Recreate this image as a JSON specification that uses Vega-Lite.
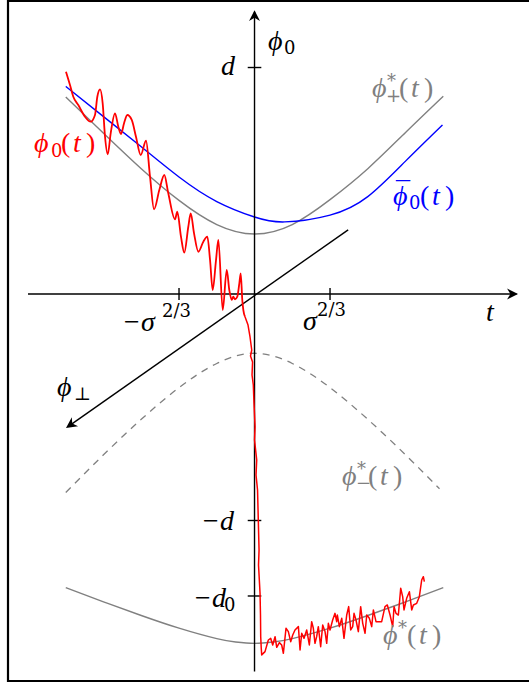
{
  "$schema": "https://vega.github.io/schema/vega-lite/v6.json",
  "width": 529,
  "height": 687,
  "autosize": {"type": "fit", "contains": "padding"},
  "padding": {"left": 8, "top": 1, "right": -3, "bottom": 6},
  "config": {"view": {"stroke": "black", "strokeWidth": 2.2}},
  "datasets": {
    "curves": [
      {"series": "plus", "t": -2.5, "phi": 2.61}, {"series": "plus", "t": -2.0, "phi": 2.13}, {"series": "plus", "t": -1.5, "phi": 1.66}, {"series": "plus", "t": -1.0, "phi": 1.24}, {"series": "plus", "t": -0.5, "phi": 0.92}, {"series": "plus", "t": 0.0, "phi": 0.795}, {"series": "plus", "t": 0.5, "phi": 0.92}, {"series": "plus", "t": 1.0, "phi": 1.25}, {"series": "plus", "t": 1.5, "phi": 1.66}, {"series": "plus", "t": 2.0, "phi": 2.14}, {"series": "plus", "t": 2.5, "phi": 2.62},
      {"series": "bar", "t": -2.5, "phi": 2.75}, {"series": "bar", "t": -2.0, "phi": 2.35}, {"series": "bar", "t": -1.5, "phi": 1.95}, {"series": "bar", "t": -1.0, "phi": 1.55}, {"series": "bar", "t": -0.5, "phi": 1.225}, {"series": "bar", "t": 0.0, "phi": 1.02}, {"series": "bar", "t": 0.4, "phi": 0.955}, {"series": "bar", "t": 1.0, "phi": 1.045}, {"series": "bar", "t": 1.5, "phi": 1.29}, {"series": "bar", "t": 2.0, "phi": 1.76}, {"series": "bar", "t": 2.49, "phi": 2.24},
      {"series": "minus", "t": -2.5, "phi": -2.63}, {"series": "minus", "t": -2.0, "phi": -2.13}, {"series": "minus", "t": -1.5, "phi": -1.66}, {"series": "minus", "t": -1.0, "phi": -1.24}, {"series": "minus", "t": -0.5, "phi": -0.92}, {"series": "minus", "t": 0.0, "phi": -0.785}, {"series": "minus", "t": 0.5, "phi": -0.92}, {"series": "minus", "t": 1.0, "phi": -1.24}, {"series": "minus", "t": 1.5, "phi": -1.66}, {"series": "minus", "t": 2.0, "phi": -2.13}, {"series": "minus", "t": 2.45, "phi": -2.58},
      {"series": "star", "t": -2.5, "phi": -3.89}, {"series": "star", "t": -2.0, "phi": -4.078}, {"series": "star", "t": -1.5, "phi": -4.258}, {"series": "star", "t": -1.0, "phi": -4.426}, {"series": "star", "t": -0.5, "phi": -4.565}, {"series": "star", "t": -0.25, "phi": -4.61}, {"series": "star", "t": 0.0, "phi": -4.627}, {"series": "star", "t": 0.25, "phi": -4.61}, {"series": "star", "t": 0.5, "phi": -4.565}, {"series": "star", "t": 1.0, "phi": -4.426}, {"series": "star", "t": 1.5, "phi": -4.258}, {"series": "star", "t": 2.0, "phi": -4.078}, {"series": "star", "t": 2.5, "phi": -3.89}
    ],
    "red": [
      {"i": 1, "seg": "osc", "t": -2.497, "phi": 2.944}, {"i": 2, "seg": "osc", "t": -2.444, "phi": 2.768}, {"i": 3, "seg": "osc", "t": -2.4, "phi": 2.613}, {"i": 4, "seg": "osc", "t": -2.334, "phi": 2.503}, {"i": 5, "seg": "osc", "t": -2.245, "phi": 2.348}, {"i": 6, "seg": "osc", "t": -2.17, "phi": 2.282}, {"i": 7, "seg": "osc", "t": -2.113, "phi": 2.371}, {"i": 8, "seg": "osc", "t": -2.082, "phi": 2.613}, {"i": 9, "seg": "osc", "t": -2.046, "phi": 2.711}, {"i": 10, "seg": "osc", "t": -2.011, "phi": 2.526},
      {"i": 11, "seg": "osc", "t": -1.98, "phi": 2.083}, {"i": 12, "seg": "osc", "t": -1.944, "phi": 1.85}, {"i": 13, "seg": "osc", "t": -1.905, "phi": 2.128}, {"i": 14, "seg": "osc", "t": -1.848, "phi": 2.393}, {"i": 15, "seg": "osc", "t": -1.804, "phi": 2.216}, {"i": 16, "seg": "osc", "t": -1.768, "phi": 2.119}, {"i": 17, "seg": "osc", "t": -1.728, "phi": 2.261}, {"i": 18, "seg": "osc", "t": -1.685, "phi": 2.371}, {"i": 19, "seg": "osc", "t": -1.626, "phi": 2.305}, {"i": 20, "seg": "osc", "t": -1.57, "phi": 2.083},
      {"i": 21, "seg": "osc", "t": -1.507, "phi": 1.841}, {"i": 22, "seg": "osc", "t": -1.437, "phi": 2.03}, {"i": 23, "seg": "osc", "t": -1.384, "phi": 1.554}, {"i": 24, "seg": "osc", "t": -1.331, "phi": 1.122}, {"i": 25, "seg": "osc", "t": -1.261, "phi": 1.377}, {"i": 26, "seg": "osc", "t": -1.195, "phi": 1.576}, {"i": 27, "seg": "osc", "t": -1.142, "phi": 1.334}, {"i": 28, "seg": "osc", "t": -1.053, "phi": 0.989}, {"i": 29, "seg": "osc", "t": -1.023, "phi": 1.09}, {"i": 30, "seg": "osc", "t": -0.974, "phi": 0.759},
      {"i": 31, "seg": "osc", "t": -0.93, "phi": 0.547}, {"i": 32, "seg": "osc", "t": -0.877, "phi": 0.891}, {"i": 33, "seg": "osc", "t": -0.845, "phi": 1.069}, {"i": 34, "seg": "osc", "t": -0.801, "phi": 0.804}, {"i": 35, "seg": "osc", "t": -0.744, "phi": 0.56}, {"i": 36, "seg": "osc", "t": -0.678, "phi": 0.693}, {"i": 37, "seg": "osc", "t": -0.625, "phi": 0.759}, {"i": 38, "seg": "osc", "t": -0.589, "phi": 0.45}, {"i": 39, "seg": "osc", "t": -0.554, "phi": 0.053}, {"i": 40, "seg": "osc", "t": -0.51, "phi": 0.45},
      {"i": 41, "seg": "osc", "t": -0.479, "phi": 0.715}, {"i": 42, "seg": "osc", "t": -0.421, "phi": -0.212}, {"i": 43, "seg": "osc", "t": -0.368, "phi": 0.318}, {"i": 44, "seg": "osc", "t": -0.334, "phi": 0.053}, {"i": 45, "seg": "osc", "t": -0.302, "phi": -0.079}, {"i": 46, "seg": "osc", "t": -0.281, "phi": -0.036}, {"i": 47, "seg": "osc", "t": -0.258, "phi": -0.07}, {"i": 48, "seg": "osc", "t": -0.228, "phi": -0.036}, {"i": 49, "seg": "osc", "t": -0.201, "phi": 0.142}, {"i": 50, "seg": "osc", "t": -0.183, "phi": 0.274},
      {"i": 51, "seg": "osc", "t": -0.162, "phi": -0.079}, {"i": 52, "seg": "osc", "t": -0.148, "phi": -0.212}, {"i": 53, "seg": "osc", "t": -0.126, "phi": -0.301},
      {"i": 53, "seg": "jag", "t": -0.126, "phi": -0.301}, {"i": 54, "seg": "jag", "t": -0.086, "phi": -0.411}, {"i": 55, "seg": "jag", "t": -0.06, "phi": -0.566}, {"i": 56, "seg": "jag", "t": -0.037, "phi": -0.742}, {"i": 57, "seg": "jag", "t": -0.053, "phi": -0.821}, {"i": 58, "seg": "jag", "t": -0.026, "phi": -0.901}, {"i": 59, "seg": "jag", "t": -0.033, "phi": -1.073}, {"i": 60, "seg": "jag", "t": -0.016, "phi": -1.205},
      {"i": 61, "seg": "jag", "t": -0.007, "phi": -1.444}, {"i": 62, "seg": "jag", "t": 0.007, "phi": -1.758}, {"i": 63, "seg": "jag", "t": 0.0, "phi": -1.934}, {"i": 64, "seg": "jag", "t": 0.029, "phi": -2.199}, {"i": 65, "seg": "jag", "t": 0.02, "phi": -2.397}, {"i": 66, "seg": "jag", "t": 0.04, "phi": -2.596}, {"i": 67, "seg": "jag", "t": 0.05, "phi": -2.993}, {"i": 68, "seg": "jag", "t": 0.06, "phi": -3.391}, {"i": 69, "seg": "jag", "t": 0.053, "phi": -3.589}, {"i": 70, "seg": "jag", "t": 0.073, "phi": -3.96},
      {"i": 71, "seg": "jag", "t": 0.079, "phi": -4.252}, {"i": 72, "seg": "jag", "t": 0.082, "phi": -4.539}, {"i": 73, "seg": "jag", "t": 0.089, "phi": -4.689}, {"i": 74, "seg": "jag", "t": 0.095, "phi": -4.78}, {"i": 75, "seg": "jag", "t": 0.139, "phi": -4.737}, {"i": 76, "seg": "jag", "t": 0.183, "phi": -4.583}, {"i": 77, "seg": "jag", "t": 0.214, "phi": -4.561}, {"i": 78, "seg": "jag", "t": 0.241, "phi": -4.649}, {"i": 79, "seg": "jag", "t": 0.272, "phi": -4.539}, {"i": 80, "seg": "jag", "t": 0.294, "phi": -4.68},
      {"i": 81, "seg": "jag", "t": 0.329, "phi": -4.618}, {"i": 82, "seg": "jag", "t": 0.36, "phi": -4.649}, {"i": 83, "seg": "jag", "t": 0.382, "phi": -4.759}, {"i": 84, "seg": "jag", "t": 0.417, "phi": -4.428}, {"i": 85, "seg": "jag", "t": 0.448, "phi": -4.472}, {"i": 86, "seg": "jag", "t": 0.479, "phi": -4.605}, {"i": 87, "seg": "jag", "t": 0.506, "phi": -4.517}, {"i": 88, "seg": "jag", "t": 0.536, "phi": -4.45}, {"i": 89, "seg": "jag", "t": 0.581, "phi": -4.406}, {"i": 90, "seg": "jag", "t": 0.603, "phi": -4.715},
      {"i": 91, "seg": "jag", "t": 0.625, "phi": -4.494}, {"i": 92, "seg": "jag", "t": 0.656, "phi": -4.561}, {"i": 93, "seg": "jag", "t": 0.691, "phi": -4.45}, {"i": 94, "seg": "jag", "t": 0.726, "phi": -4.649}, {"i": 95, "seg": "jag", "t": 0.757, "phi": -4.34}, {"i": 96, "seg": "jag", "t": 0.779, "phi": -4.428}, {"i": 97, "seg": "jag", "t": 0.801, "phi": -4.627}, {"i": 98, "seg": "jag", "t": 0.823, "phi": -4.539}, {"i": 99, "seg": "jag", "t": 0.845, "phi": -4.406}, {"i": 100, "seg": "jag", "t": 0.876, "phi": -4.671},
      {"i": 101, "seg": "jag", "t": 0.903, "phi": -4.384}, {"i": 102, "seg": "jag", "t": 0.934, "phi": -4.472}, {"i": 103, "seg": "jag", "t": 0.956, "phi": -4.627}, {"i": 104, "seg": "jag", "t": 0.978, "phi": -4.362}, {"i": 105, "seg": "jag", "t": 1.0, "phi": -4.45}, {"i": 106, "seg": "jag", "t": 1.035, "phi": -4.318}, {"i": 107, "seg": "jag", "t": 1.066, "phi": -4.23}, {"i": 108, "seg": "jag", "t": 1.088, "phi": -4.34}, {"i": 109, "seg": "jag", "t": 1.097, "phi": -4.252}, {"i": 110, "seg": "jag", "t": 1.124, "phi": -4.406},
      {"i": 111, "seg": "jag", "t": 1.155, "phi": -4.296}, {"i": 112, "seg": "jag", "t": 1.185, "phi": -4.561}, {"i": 113, "seg": "jag", "t": 1.221, "phi": -4.252}, {"i": 114, "seg": "jag", "t": 1.247, "phi": -4.141}, {"i": 115, "seg": "jag", "t": 1.274, "phi": -4.45}, {"i": 116, "seg": "jag", "t": 1.3, "phi": -4.406}, {"i": 117, "seg": "jag", "t": 1.318, "phi": -4.23}, {"i": 118, "seg": "jag", "t": 1.344, "phi": -4.318}, {"i": 119, "seg": "jag", "t": 1.375, "phi": -4.472}, {"i": 120, "seg": "jag", "t": 1.406, "phi": -4.141},
      {"i": 121, "seg": "jag", "t": 1.433, "phi": -4.362}, {"i": 122, "seg": "jag", "t": 1.464, "phi": -4.494}, {"i": 123, "seg": "jag", "t": 1.486, "phi": -4.252}, {"i": 124, "seg": "jag", "t": 1.521, "phi": -4.296}, {"i": 125, "seg": "jag", "t": 1.552, "phi": -4.406}, {"i": 126, "seg": "jag", "t": 1.574, "phi": -4.185}, {"i": 127, "seg": "jag", "t": 1.609, "phi": -4.34}, {"i": 128, "seg": "jag", "t": 1.64, "phi": -4.34}, {"i": 129, "seg": "jag", "t": 1.684, "phi": -4.34}, {"i": 130, "seg": "jag", "t": 1.728, "phi": -4.141},
      {"i": 131, "seg": "jag", "t": 1.759, "phi": -4.119}, {"i": 132, "seg": "jag", "t": 1.795, "phi": -4.252}, {"i": 133, "seg": "jag", "t": 1.83, "phi": -4.406}, {"i": 134, "seg": "jag", "t": 1.848, "phi": -4.141}, {"i": 135, "seg": "jag", "t": 1.874, "phi": -4.23}, {"i": 136, "seg": "jag", "t": 1.905, "phi": -4.252}, {"i": 137, "seg": "jag", "t": 1.936, "phi": -3.898}, {"i": 138, "seg": "jag", "t": 1.962, "phi": -4.009}, {"i": 139, "seg": "jag", "t": 1.98, "phi": -4.185}, {"i": 140, "seg": "jag", "t": 2.015, "phi": -4.031},
      {"i": 141, "seg": "jag", "t": 2.051, "phi": -3.943}, {"i": 142, "seg": "jag", "t": 2.082, "phi": -4.185}, {"i": 143, "seg": "jag", "t": 2.104, "phi": -4.119}, {"i": 144, "seg": "jag", "t": 2.148, "phi": -4.097}, {"i": 145, "seg": "jag", "t": 2.183, "phi": -4.009}, {"i": 146, "seg": "jag", "t": 2.214, "phi": -3.788}, {"i": 147, "seg": "jag", "t": 2.236, "phi": -3.744}, {"i": 148, "seg": "jag", "t": 2.249, "phi": -3.81}
    ],
    "segs": [
      {"kind": "axis", "t": -3.0, "phi": 0, "t2": 3.47, "phi2": 0},
      {"kind": "axis", "t": 0, "phi": -5.0, "t2": 0, "phi2": 3.74},
      {"kind": "tick", "t": -0.09, "phi": 3, "t2": 0.09, "phi2": 3},
      {"kind": "tick", "t": -0.09, "phi": -3, "t2": 0.09, "phi2": -3},
      {"kind": "tick", "t": -0.09, "phi": -4, "t2": 0.09, "phi2": -4},
      {"kind": "tick", "t": -1, "phi": -0.08, "t2": -1, "phi2": 0.08},
      {"kind": "tick", "t": 1, "phi": -0.08, "t2": 1, "phi2": 0.08},
      {"kind": "perp", "t": 1.24, "phi": 0.85, "t2": -2.456, "phi2": -1.746}
    ],
    "tips": [
      {"arrow": "t", "t": 3.49, "phi": 0},
      {"arrow": "phi0", "t": 0, "phi": 3.76},
      {"arrow": "perp", "t": -2.497, "phi": -1.775}
    ],
    "labels": [
      {"series": "axis", "role": "main", "text": "ϕ", "t": 0.179, "phi": 3.232},
      {"series": "axis", "role": "script", "text": "0", "t": 0.391, "phi": 3.179},
      {"series": "axis", "role": "main", "text": "d", "t": -0.444, "phi": 2.901},
      {"series": "axis", "role": "main", "text": "−d", "t": -0.709, "phi": -3.126},
      {"series": "axis", "role": "main", "text": "−d", "t": -0.815, "phi": -4.146},
      {"series": "axis", "role": "script", "text": "0", "t": -0.404, "phi": -4.199},
      {"series": "axis", "role": "main", "text": "t", "t": 3.066, "phi": -0.358},
      {"series": "axis", "role": "main", "text": "−σ", "t": -1.755, "phi": -0.49},
      {"series": "axis", "role": "script", "text": "2/3", "t": -1.225, "phi": -0.305},
      {"series": "axis", "role": "main", "text": "σ", "t": 0.642, "phi": -0.477},
      {"series": "axis", "role": "script", "text": "2/3", "t": 0.828, "phi": -0.291},
      {"series": "axis", "role": "main", "text": "ϕ", "t": -2.616, "phi": -1.351},
      {"series": "axis", "role": "script", "text": "⊥", "t": -2.391, "phi": -1.404},
      {"series": "phi0", "role": "main", "text": "ϕ", "t": -2.921, "phi": 1.881},
      {"series": "phi0", "role": "script", "text": "0", "t": -2.695, "phi": 1.815},
      {"series": "phi0", "role": "paren", "text": "(", "t": -2.563, "phi": 1.881},
      {"series": "phi0", "role": "main", "text": "t", "t": -2.404, "phi": 1.881},
      {"series": "phi0", "role": "paren", "text": ")", "t": -2.232, "phi": 1.881},
      {"series": "plus", "role": "main", "text": "ϕ", "t": 1.556, "phi": 2.609},
      {"series": "plus", "role": "script", "text": "*", "t": 1.755, "phi": 2.742},
      {"series": "plus", "role": "script", "text": "+", "t": 1.742, "phi": 2.543},
      {"series": "plus", "role": "paren", "text": "(", "t": 1.914, "phi": 2.609},
      {"series": "plus", "role": "main", "text": "t", "t": 2.073, "phi": 2.609},
      {"series": "plus", "role": "paren", "text": ")", "t": 2.245, "phi": 2.609},
      {"series": "bar", "role": "main", "text": "ϕ", "t": 1.834, "phi": 1.179},
      {"series": "bar", "role": "paren", "text": "¯", "t": 1.874, "phi": 1.232},
      {"series": "bar", "role": "script", "text": "0", "t": 2.046, "phi": 1.126},
      {"series": "bar", "role": "paren", "text": "(", "t": 2.192, "phi": 1.179},
      {"series": "bar", "role": "main", "text": "t", "t": 2.351, "phi": 1.179},
      {"series": "bar", "role": "paren", "text": ")", "t": 2.523, "phi": 1.179},
      {"series": "minus", "role": "main", "text": "ϕ", "t": 1.159, "phi": -2.53},
      {"series": "minus", "role": "script", "text": "*", "t": 1.358, "phi": -2.397},
      {"series": "minus", "role": "script", "text": "−", "t": 1.344, "phi": -2.583},
      {"series": "minus", "role": "paren", "text": "(", "t": 1.503, "phi": -2.53},
      {"series": "minus", "role": "main", "text": "t", "t": 1.662, "phi": -2.53},
      {"series": "minus", "role": "paren", "text": ")", "t": 1.834, "phi": -2.53},
      {"series": "star", "role": "main", "text": "ϕ", "t": 1.702, "phi": -4.636},
      {"series": "star", "role": "script", "text": "*", "t": 1.901, "phi": -4.503},
      {"series": "star", "role": "paren", "text": "(", "t": 2.02, "phi": -4.636},
      {"series": "star", "role": "main", "text": "t", "t": 2.179, "phi": -4.636},
      {"series": "star", "role": "paren", "text": ")", "t": 2.351, "phi": -4.636}
    ]
  },
  "layer": [
    {
      "data": {"name": "curves"},
      "transform": [{"filter": "datum.series != 'minus'"}],
      "mark": {"type": "line", "interpolate": "natural", "strokeWidth": 1.4},
      "encoding": {
        "x": {"field": "t", "type": "quantitative", "scale": {"domain": [-3.265, 3.675], "nice": false, "zero": false}, "axis": null},
        "y": {"field": "phi", "type": "quantitative", "scale": {"domain": [-5.126, 3.881], "nice": false, "zero": false}, "axis": null},
        "detail": {"field": "series"},
        "color": {"field": "series", "type": "nominal", "scale": {"domain": ["phi0", "plus", "bar", "minus", "star", "axis"], "range": ["#ff0000", "#808080", "#0000ff", "#808080", "#808080", "#000000"]}, "legend": null}
      }
    },
    {
      "data": {"name": "curves"},
      "transform": [{"filter": "datum.series == 'minus'"}],
      "mark": {"type": "line", "interpolate": "natural", "strokeWidth": 1.3, "strokeDash": [7, 6]},
      "encoding": {
        "x": {"field": "t", "type": "quantitative"},
        "y": {"field": "phi", "type": "quantitative"},
        "color": {"field": "series", "type": "nominal", "legend": null}
      }
    },
    {
      "data": {"name": "segs"},
      "mark": {"type": "rule", "color": "black", "strokeWidth": 1.4},
      "encoding": {
        "x": {"field": "t", "type": "quantitative"},
        "y": {"field": "phi", "type": "quantitative"},
        "x2": {"field": "t2"},
        "y2": {"field": "phi2"}
      }
    },
    {
      "data": {"name": "tips"},
      "transform": [{"filter": "datum.arrow == 't'"}],
      "mark": {"type": "point", "shape": "M0,0 L-1,-0.5 L-0.7,0 L-1,0.5 Z", "filled": true, "color": "black", "opacity": 1, "size": 480, "angle": 0, "strokeWidth": 0},
      "encoding": {"x": {"field": "t", "type": "quantitative"}, "y": {"field": "phi", "type": "quantitative"}}
    },
    {
      "data": {"name": "tips"},
      "transform": [{"filter": "datum.arrow == 'phi0'"}],
      "mark": {"type": "point", "shape": "M0,0 L-1,-0.5 L-0.7,0 L-1,0.5 Z", "filled": true, "color": "black", "opacity": 1, "size": 480, "angle": 270, "strokeWidth": 0},
      "encoding": {"x": {"field": "t", "type": "quantitative"}, "y": {"field": "phi", "type": "quantitative"}}
    },
    {
      "data": {"name": "tips"},
      "transform": [{"filter": "datum.arrow == 'perp'"}],
      "mark": {"type": "point", "shape": "M0,0 L-1,-0.5 L-0.7,0 L-1,0.5 Z", "filled": true, "color": "black", "opacity": 1, "size": 480, "angle": 144.9, "strokeWidth": 0},
      "encoding": {"x": {"field": "t", "type": "quantitative"}, "y": {"field": "phi", "type": "quantitative"}}
    },
    {
      "data": {"name": "red"},
      "transform": [{"filter": "datum.seg == 'osc'"}],
      "mark": {"type": "line", "interpolate": "monotone", "strokeWidth": 1.8, "color": "#ff0000"},
      "encoding": {
        "x": {"field": "t", "type": "quantitative"},
        "y": {"field": "phi", "type": "quantitative"},
        "order": {"field": "i", "type": "quantitative"}
      }
    },
    {
      "data": {"name": "red"},
      "transform": [{"filter": "datum.seg == 'jag'"}],
      "mark": {"type": "line", "interpolate": "linear", "strokeWidth": 1.5, "color": "#ff0000", "strokeJoin": "round"},
      "encoding": {
        "x": {"field": "t", "type": "quantitative"},
        "y": {"field": "phi", "type": "quantitative"},
        "order": {"field": "i", "type": "quantitative"}
      }
    },
    {
      "data": {"name": "labels"},
      "transform": [{"filter": "datum.role == 'main'"}],
      "mark": {"type": "text", "font": "Liberation Serif", "fontStyle": "italic", "fontSize": 28, "align": "left", "baseline": "alphabetic"},
      "encoding": {
        "x": {"field": "t", "type": "quantitative"},
        "y": {"field": "phi", "type": "quantitative"},
        "text": {"field": "text"},
        "color": {"field": "series", "type": "nominal", "legend": null}
      }
    },
    {
      "data": {"name": "labels"},
      "transform": [{"filter": "datum.role == 'paren'"}],
      "mark": {"type": "text", "font": "Liberation Serif", "fontSize": 28, "align": "left", "baseline": "alphabetic"},
      "encoding": {
        "x": {"field": "t", "type": "quantitative"},
        "y": {"field": "phi", "type": "quantitative"},
        "text": {"field": "text"},
        "color": {"field": "series", "type": "nominal", "legend": null}
      }
    },
    {
      "data": {"name": "labels"},
      "transform": [{"filter": "datum.role == 'script'"}],
      "mark": {"type": "text", "font": "DejaVu Serif", "fontSize": 18, "align": "left", "baseline": "alphabetic"},
      "encoding": {
        "x": {"field": "t", "type": "quantitative"},
        "y": {"field": "phi", "type": "quantitative"},
        "text": {"field": "text"},
        "color": {"field": "series", "type": "nominal", "legend": null}
      }
    }
  ]
}
